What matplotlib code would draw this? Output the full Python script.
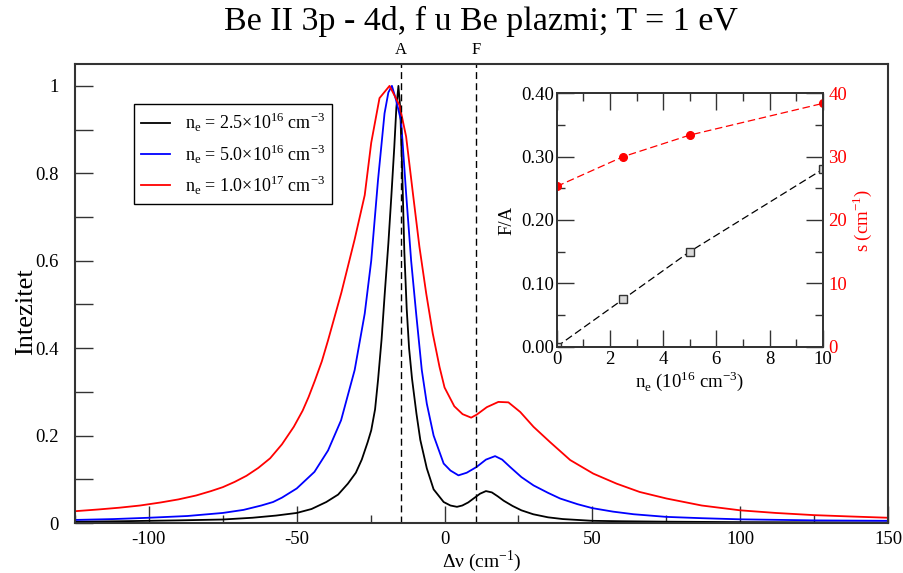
import matplotlib
matplotlib.use("Agg")
import matplotlib.pyplot as plt
from matplotlib.ticker import MultipleLocator, FixedLocator, FuncFormatter

plt.rcParams["font.family"] = "Liberation Serif"
plt.rcParams["mathtext.fontset"] = "custom"
plt.rcParams["mathtext.rm"] = "Liberation Serif"
plt.rcParams["axes.unicode_minus"] = False

# ---------------------------------------------------------------------------
# Data
# ---------------------------------------------------------------------------

# n_e = 2.5e16 cm^-3
x_black = [-125, -110, -100, -90, -75, -65, -57, -50, -45, -40, -36, -32.7,
           -30, -28, -26, -24.8, -23.5, -22.5, -21.3, -20.3, -19, -18, -17,
           -16.3, -15.6, -15.0, -14.3, -13.6, -12.8, -12, -11, -9.5, -8.2,
           -6, -3.7, -0.3, 2, 4.2, 6, 8, 10, 12, 14, 16, 18, 20, 23, 26, 30,
           35, 40, 50, 60, 75, 100, 125, 150]
y_black = [0.003, 0.004, 0.005, 0.006, 0.008, 0.012, 0.017, 0.023, 0.032,
           0.048, 0.065, 0.09, 0.115, 0.145, 0.185, 0.212, 0.26, 0.327, 0.42,
           0.518, 0.64, 0.747, 0.86, 0.95, 1.0, 0.95, 0.80, 0.62, 0.49, 0.40,
           0.33, 0.25, 0.19, 0.125, 0.077, 0.048, 0.040, 0.037, 0.040, 0.047,
           0.057, 0.067, 0.073, 0.070, 0.061, 0.051, 0.039, 0.029, 0.020,
           0.013, 0.009, 0.005, 0.004, 0.003, 0.002, 0.0015, 0.001]

# n_e = 5.0e16 cm^-3
x_blue = [-125, -112, -100, -87, -75, -68, -62, -58, -55, -50, -44, -39.4,
          -35, -30.4, -27, -24.8, -22.5, -20.3, -19, -17.8, -16.5, -14.7, -13,
          -11.3, -9.6, -7.7, -6, -3.7, -0.3, 2, 4.7, 7.5, 10.8, 14, 17.1,
          19.5, 22.2, 26, 30.1, 35, 39.1, 45, 50, 57, 64, 75, 87, 100, 125,
          150]
y_blue = [0.007, 0.009, 0.012, 0.016, 0.023, 0.030, 0.040, 0.048, 0.058,
          0.079, 0.117, 0.166, 0.235, 0.35, 0.479, 0.60, 0.785, 0.937, 0.985,
          1.0, 0.97, 0.92, 0.754, 0.60, 0.479, 0.35, 0.273, 0.20, 0.136, 0.12,
          0.109, 0.115, 0.128, 0.145, 0.153, 0.145, 0.128, 0.105, 0.086,
          0.069, 0.056, 0.043, 0.034, 0.026, 0.020, 0.014, 0.011, 0.0084,
          0.006, 0.005]

# n_e = 1.0e17 cm^-3
x_red = [-125, -117, -110, -103, -96, -90, -84, -79, -75, -71, -67, -63, -59,
         -55, -51, -48, -46, -43.9, -41.5, -39.4, -34.9, -30.4, -27, -24.8,
         -22, -18.6, -15.2, -13, -10.7, -8.5, -6.2, -4, -1.7, 0, 3.3, 6.1, 9,
         10.9, 14.3, 18.2, 21.6, 25.6, 30.1, 35.7, 42.5, 50.3, 58.2, 66, 75.1,
         87, 100, 112, 125, 137, 150]
y_red = [0.027, 0.031, 0.035, 0.040, 0.047, 0.054, 0.063, 0.073, 0.082, 0.094,
         0.108, 0.126, 0.148, 0.18, 0.22, 0.257, 0.288, 0.325, 0.37, 0.418,
         0.527, 0.649, 0.75, 0.87, 0.972, 1.0, 0.955, 0.884, 0.754, 0.632,
         0.525, 0.434, 0.357, 0.31, 0.267, 0.249, 0.241, 0.248, 0.265, 0.277,
         0.276, 0.254, 0.220, 0.185, 0.144, 0.113, 0.090, 0.071, 0.056, 0.040,
         0.029, 0.023, 0.018, 0.015, 0.012]

labels = [
    r"n$_\mathregular{e}$ = 2.5×10$^\mathregular{16}$ cm$^\mathregular{-3}$",
    r"n$_\mathregular{e}$ = 5.0×10$^\mathregular{16}$ cm$^\mathregular{-3}$",
    r"n$_\mathregular{e}$ = 1.0×10$^\mathregular{17}$ cm$^\mathregular{-3}$",
]

# allowed (A) and forbidden (F) component positions
line_pos = {"A": -14.8, "F": 10.7}

# inset: F/A ratio and shift s vs electron density
ne_inset = [0, 2.5, 5, 10]
fa_ratio = [0.0, 0.075, 0.15, 0.28]
shift_s = [25.3, 30.0, 33.4, 38.4]

# ---------------------------------------------------------------------------
# Figure
# ---------------------------------------------------------------------------

W, H = 904, 573
fig = plt.figure(figsize=(W / 100, H / 100), dpi=100)
ax = fig.add_axes([75 / W, 1 - 523 / H, (888 - 75) / W, (523 - 64) / H])

lw = 1.3
ax.plot(x_black, y_black, color="black", lw=lw, label=labels[0])
ax.plot(x_blue, y_blue, color="#0000ff", lw=lw, label=labels[1])
ax.plot(x_red, y_red, color="#ff0000", lw=lw, label=labels[2])

for name, xv in line_pos.items():
    ax.axvline(xv, color="black", lw=1.0, ls=(0, (5, 3)))
    ax.text(xv, 1.014, name, transform=ax.get_xaxis_transform(),
            ha="center", va="bottom", fontsize=12)

ax.set_xlim(-125, 150)
ax.set_ylim(0, 1.05)
ax.xaxis.set_major_locator(MultipleLocator(50))
ax.xaxis.set_minor_locator(MultipleLocator(25))
ax.yaxis.set_major_locator(MultipleLocator(0.2))
ax.yaxis.set_minor_locator(FixedLocator([0.1, 0.3, 0.5, 0.7, 0.9]))
ax.yaxis.set_major_formatter(FuncFormatter(lambda v, p: f"{v:g}"))
ax.tick_params(which="both", direction="in", labelsize=13.5, width=1.0,
               color="#333333", top=False, right=False)
ax.tick_params(axis="x", which="major", length=12, pad=6)
ax.tick_params(axis="x", which="minor", length=6)
ax.tick_params(axis="y", which="both", length=13, pad=12)
for sp in ax.spines.values():
    sp.set_color("#333333")
    sp.set_linewidth(1.5)

ax.set_xlabel(r"Δν (cm$^\mathregular{-1}$)", fontsize=14, labelpad=0)
ax.set_ylabel("Intezitet", fontsize=19)
ax.yaxis.set_label_coords(-0.047, 0.46)

leg = ax.legend(loc="upper left", bbox_to_anchor=((134 - 75) / 813, (523 - 104) / 459),
                borderaxespad=0, frameon=True, fancybox=False, framealpha=1,
                edgecolor="black", fontsize=13, handlelength=1.6,
                labelspacing=0.45, borderpad=0.4, handletextpad=0.8)
leg.get_frame().set_linewidth(1.0)

fig.text(481 / W, 1 - 21 / H, "Be II 3p - 4d, f u Be plazmi; T = 1 eV",
         ha="center", va="center", fontsize=24.5)

# ---------------------------------------------------------------------------
# Inset
# ---------------------------------------------------------------------------

ins = fig.add_axes([556.7 / W, 1 - 346.7 / H, 266 / W, 253.4 / H])
ins.plot(ne_inset, fa_ratio, color="black", lw=0.9, ls=(0, (6, 3)),
         marker="s", ms=5.5, mfc="#d9d9d9", mec="#333333", mew=1.0)
ins.set_xlim(0, 10)
ins.set_ylim(0, 0.40)
ins.xaxis.set_major_locator(MultipleLocator(2))
ins.xaxis.set_minor_locator(MultipleLocator(1))
ins.yaxis.set_major_locator(MultipleLocator(0.1))
ins.yaxis.set_minor_locator(MultipleLocator(0.05))
ins.yaxis.set_major_formatter(FuncFormatter(lambda v, p: f"{v:.2f}"))
ins.tick_params(which="both", direction="in", labelsize=13.5, width=1.0,
                color="#333333", top=True, right=False)
ins.tick_params(which="major", length=12)
ins.tick_params(which="minor", length=6)
ins.tick_params(axis="y", pad=2)
ins.tick_params(axis="x", pad=3)
ins.set_xlabel(r"n$_\mathregular{e}$ (10$^\mathregular{16}$ cm$^\mathregular{-3}$)",
               fontsize=13.5, labelpad=1)
ins.set_ylabel("F/A", fontsize=13.5, labelpad=4)
for sp in ins.spines.values():
    sp.set_color("#333333")
    sp.set_linewidth(1.3)

ins2 = ins.twinx()
ins2.plot(ne_inset, shift_s, color="#ff0000", lw=0.9, ls=(0, (6, 3)),
          marker="o", ms=5.5, mfc="#ff0000", mec="#ff0000")
ins2.set_ylim(0, 40)
ins2.yaxis.set_major_locator(MultipleLocator(10))
ins2.yaxis.set_minor_locator(MultipleLocator(5))
ins2.tick_params(which="both", direction="in", labelsize=13.5, width=1.0,
                 color="#333333", labelcolor="#ff0000", pad=4)
ins2.tick_params(which="major", length=12)
ins2.tick_params(which="minor", length=6)
ins2.set_ylabel(r"s (cm$^\mathregular{-1}$)", color="#ff0000", fontsize=13.5,
                labelpad=2)
for sp in ins2.spines.values():
    sp.set_color("#333333")
    sp.set_linewidth(1.3)

fig.savefig("out.png", dpi=100)
